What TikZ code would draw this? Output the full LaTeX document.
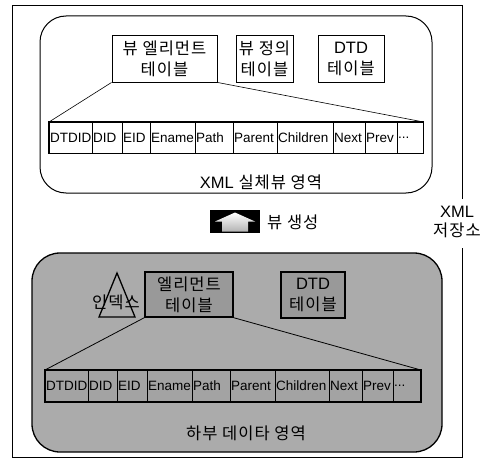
\documentclass[tikz,border=0pt]{standalone}
\usepackage{fontspec}
\setmainfont{Liberation Sans}
\newfontfamily\kr[LetterSpace=6]{Noto Sans CJK KR}
\newcommand\celldots{...}
\begin{document}
\begin{tikzpicture}[x=1pt,y=-1pt,
  frame/.style={line width=0.9pt},
  topbox/.style={draw, line width=0.9pt, fill=white, font=\kr\fontsize{16.5}{21}\selectfont, align=center, inner sep=0pt},
  botbox/.style={draw, line width=1.4pt, fill=black!40, font=\kr\fontsize{16.5}{21}\selectfont, align=center, inner sep=0pt},
  cell/.style={draw, line width=0.6pt, anchor=north west, align=left, inner xsep=0.8pt, inner ysep=0pt, font=\fontsize{13.5}{15}\selectfont},
  krlabel/.style={font=\kr\fontsize{16.5}{19}\selectfont, align=center, inner sep=0pt},
  link/.style={line width=0.6pt}
]
\useasboundingbox (0,0) rectangle (492,468);

% outer frame with gap for label
\node[krlabel] (store) at (457,222) {\fontspec{Liberation Sans}XML\\저장소};
\draw[frame] (462,199) -- (462,5) -- (12,5) -- (12,457) -- (462,457) -- (462,248);

% ---------- top region ----------
\draw[line width=1pt, rounded corners=26pt] (40,16) rectangle (432,193);
\node[topbox, minimum width=105pt, minimum height=47pt] (ve) at (164.5,58.5) {뷰 엘리먼트\\테이블};
\node[topbox, minimum width=57pt, minimum height=47pt] (vd) at (264.5,58.5) {뷰 정의\\테이블};
\node[topbox, minimum width=66pt, minimum height=47pt] (dtd) at (351,58.5) {{\fontspec{Liberation Sans}DTD}\\테이블};

\foreach \a/\b/\t [count=\i] in {49/92/DTDID,92/122/DID,122/150/EID,150/195/Ename,195/233/Path,233/277/Parent,277/333/Children,333/365/Next,365/397/Prev,397/423/\celldots}{
  \pgfmathsetmacro\w{\b-\a-1.6}
  \node[cell, text width=\w pt, minimum height=31pt] (t\i) at (\a,122) {\t};
}
\draw[line width=1.3pt] (t1.north west) rectangle (t10.south east);
\draw[link] (ve.south west) -- (t1.north west);
\draw[link] (ve.south east) -- (t10.north east);
\node[krlabel] (toplabel) at (261,182) {{\fontspec{Liberation Sans}XML} 실체뷰 영역};

% ---------- view generation arrow ----------
\node[fill=black, minimum width=50pt, minimum height=23pt, inner sep=0pt] (gen) at (235,221.5) {};
\fill[top color=white, bottom color=black!30]
  ([xshift=-20pt]gen.center) -- ([yshift=9pt]gen.center) -- ([xshift=20pt]gen.center)
  -- ([xshift=13pt]gen.center) -- ([xshift=13pt,yshift=-10pt]gen.center)
  -- ([xshift=-13pt,yshift=-10pt]gen.center) -- ([xshift=-13pt]gen.center) -- cycle;
\node[krlabel, anchor=west] (genlabel) at (267,222) {뷰 생성};

% ---------- bottom region ----------
\draw[line width=1.3pt, fill=black!33, rounded corners=28pt] (32,253) rectangle (442,452);
\node[botbox, minimum width=88pt, minimum height=45pt] (el) at (189,294.5) {엘리먼트\\테이블};
\node[botbox, minimum width=64pt, minimum height=46pt] (dtd2) at (313,295) {{\fontspec{Liberation Sans}DTD}\\테이블};
\draw[line width=1.3pt] (117,273) -- (99,317) -- (135,317) -- cycle;
\node[krlabel] (idx) at (116,302) {인덱스};

\foreach \a/\b/\t [count=\i] in {45/88/DTDID,88/117/DID,117/147/EID,147/192/Ename,192/230/Path,230/275/Parent,275/329/Children,329/362/Next,362/393/Prev,393/420/\celldots}{
  \pgfmathsetmacro\w{\b-\a-1.6}
  \node[cell, line width=0.8pt, fill=black!36, text width=\w pt, minimum height=31pt] (b\i) at (\a,370) {\t};
}
\draw[line width=2pt] (b1.north west) rectangle (b10.south east);
\draw[link, line width=0.8pt] (el.south west) -- (b1.north west);
\draw[link, line width=0.8pt] (el.south east) -- (b10.north east);
\node[krlabel] (botlabel) at (246,433) {하부 데이타 영역};
\end{tikzpicture}
\end{document}
